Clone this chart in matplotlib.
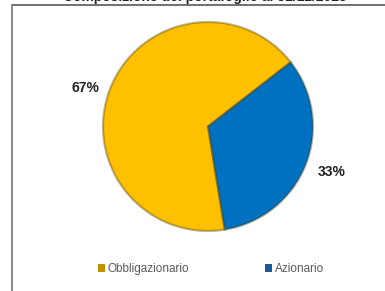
import matplotlib
matplotlib.use("Agg")
import matplotlib.pyplot as plt
from matplotlib.lines import Line2D
from matplotlib.patches import Patch

# data
categories = ["Obbligazionario", "Azionario"]
shares = [67, 33]
label_text = ["67%", "33%"]
slice_colors = ["#FFC000", "#0070C0"]
legend_colors = ["#C29200", "#1F5A96"]
title = "Composizione del portafoglio al 31/12/2023"

W, H = 385, 291
fig = plt.figure(figsize=(W / 100, H / 100), dpi=100)
plt.rcParams["font.family"] = ["Liberation Sans", "DejaVu Sans"]

# frame lines (top and left)
fig.add_artist(Line2D([12 / W, 1], [1 - 4.5 / H, 1 - 4.5 / H], color="#707070", lw=1.4))
fig.add_artist(Line2D([12.5 / W, 12.5 / W], [0, 1 - 4.5 / H], color="#8a8a8a", lw=1.4))

# title, cropped at the top edge as in the source
fig.text(205 / W, 1 - 1.5 / H, title, ha="center", va="baseline",
         fontsize=10, fontweight="bold", color="#222222")

ax = fig.add_axes([103 / W, 1 - 231 / H, 210 / W, 209 / H])
wedges, _ = ax.pie(shares, colors=slice_colors, startangle=38, counterclock=True,
                   wedgeprops=dict(edgecolor=(0.25, 0.2, 0, 0.35), linewidth=1.6))
ax.set_xlim(-1.0, 1.0)
ax.set_ylim(-1.0, 1.0)
ax.set_aspect("auto")
ax.axis("off")

fig.text(85 / W, 1 - 88 / H, label_text[0], ha="center", va="center",
         fontsize=10, fontweight="bold", color="#222222")
fig.text(332 / W, 1 - 172 / H, label_text[1], ha="center", va="center",
         fontsize=10, fontweight="bold", color="#222222")

handles = [Patch(facecolor=c, edgecolor="none") for c in legend_colors]
leg = fig.legend(handles, categories, loc="center", bbox_to_anchor=(211 / W, 1 - 269 / H),
                 ncol=2, frameon=False, fontsize=8.5, handlelength=0.6, handleheight=0.6,
                 handletextpad=0.25, columnspacing=6.4, labelcolor="#595959")

fig.savefig("out.png", dpi=100)
